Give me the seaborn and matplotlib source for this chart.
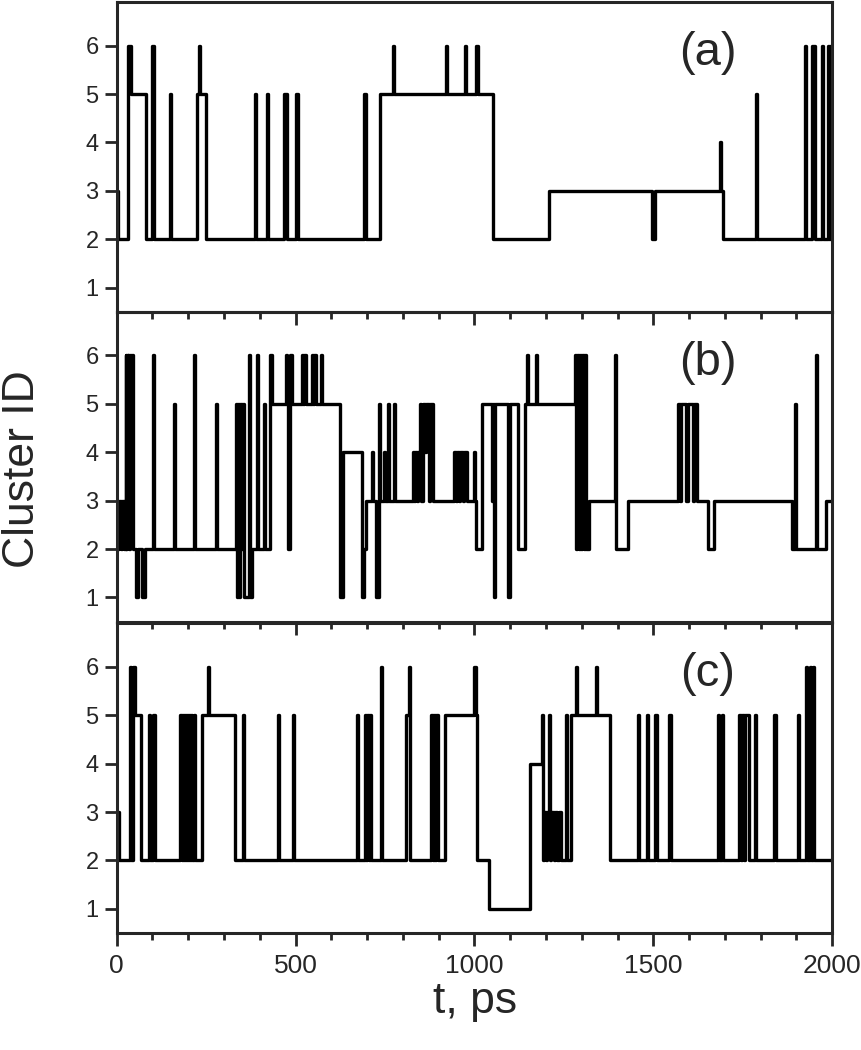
import numpy as np
import pandas as pd
import matplotlib
matplotlib.use('Agg')
import matplotlib.pyplot as plt
from matplotlib.ticker import MultipleLocator
import seaborn as sns

# change points of the cluster trajectory (time in ps -> cluster id from that time on)
t_a = [0, 5, 31, 39, 82, 100, 104, 148, 152, 225, 230, 234, 251,
       386, 390, 419, 422, 468, 475, 502, 506, 692, 696, 737,
       773, 776, 920, 923, 973, 977, 1005, 1009, 1053, 1207,
       1495, 1505, 1687, 1690, 1696, 1786, 1789,
       1925, 1928, 1942, 1952, 1971, 1974, 1989, 1992, 1995, 1998, 2000]
id_a = [3, 2, 6, 5, 2, 6, 2, 5, 2, 5, 6, 5, 2,
        5, 2, 5, 2, 5, 2, 5, 2, 5, 2, 5,
        6, 5, 6, 5, 6, 5, 6, 5, 2, 3,
        2, 3, 4, 3, 2, 5, 2,
        6, 2, 6, 2, 6, 2, 6, 2, 6, 2, 2]

t_b = [0, 2, 5, 8, 12, 14, 20, 25, 27, 29, 31, 33, 35, 37, 40, 42, 45,
       53, 60, 70, 78, 101, 104, 160, 163, 215, 218, 277, 280,
       334, 337, 340, 343, 346, 349, 352, 355, 370, 373, 378, 391, 394,
       412, 415, 430, 434, 472, 476, 479, 485, 489,
       517, 522, 525, 530, 545, 549, 552, 557, 570, 574,
       625, 632, 687, 691, 697, 714, 717, 725, 732, 735, 747, 750,
       758, 761, 775, 778, 828, 832, 835, 840, 843, 847, 852, 855, 862,
       866, 872, 876, 884, 943, 948, 951, 958, 961, 968, 971, 978,
       998, 1001, 1004, 1020, 1048, 1051, 1054, 1058, 1095, 1099,
       1122, 1140, 1147, 1150, 1171, 1174,
       1280, 1284, 1287, 1291, 1294, 1298, 1301, 1305, 1308, 1312, 1320,
       1393, 1397, 1428, 1570, 1575, 1578, 1592, 1598, 1610, 1613, 1623,
       1654, 1670, 1887, 1896, 1899, 1954, 1957, 1982, 2000]
id_b = [2, 3, 2, 3, 2, 3, 2, 6, 2, 6, 3, 6, 2, 6, 4, 6, 2,
        1, 2, 1, 2, 6, 2, 5, 2, 6, 2, 5, 2,
        5, 1, 5, 1, 5, 2, 5, 1, 6, 1, 2, 6, 2,
        5, 2, 6, 5, 6, 5, 2, 6, 5,
        6, 5, 6, 5, 6, 5, 6, 5, 6, 5,
        1, 4, 1, 2, 3, 4, 3, 1, 5, 3, 4, 3,
        5, 3, 5, 3, 4, 3, 4, 3, 4, 5, 3, 5, 4,
        5, 3, 5, 3, 4, 3, 4, 3, 4, 3, 4, 3,
        4, 3, 2, 5, 3, 5, 1, 5, 1, 5,
        2, 5, 6, 5, 6, 5,
        6, 2, 6, 2, 6, 2, 6, 2, 6, 2, 3,
        6, 2, 3, 5, 3, 5, 3, 5, 3, 5, 3,
        2, 3, 2, 5, 2, 6, 2, 3, 3]

t_c = [0, 8, 36, 39, 46, 50, 69, 91, 94, 102, 106,
       178, 182, 185, 188, 191, 194, 197, 200, 203, 206, 209, 212, 216, 220,
       239, 255, 258, 332, 354, 357, 450, 453, 492, 495,
       672, 675, 693, 697, 700, 704, 707, 712, 740, 743,
       808, 818, 821, 879, 883, 886, 890, 893, 897,
       917, 1000, 1003, 1008, 1040, 1155, 1188, 1191, 1195, 1200, 1203,
       1209, 1212, 1215, 1222, 1225, 1232, 1235, 1241, 1256, 1259, 1270,
       1284, 1287, 1339, 1342, 1380,
       1457, 1460, 1481, 1484, 1506, 1509, 1545, 1548, 1680, 1684, 1691, 1695,
       1740, 1744, 1747, 1752, 1755, 1766, 1785, 1788, 1836, 1842,
       1903, 1906, 1927, 1930, 1937, 1941, 1945, 1950, 2000]
id_c = [3, 2, 6, 2, 6, 5, 2, 5, 2, 5, 2,
        5, 2, 5, 2, 5, 2, 5, 2, 5, 2, 5, 2, 5, 2,
        5, 6, 5, 2, 5, 2, 5, 2, 5, 2,
        5, 2, 5, 2, 5, 2, 5, 2, 6, 2,
        5, 6, 2, 5, 2, 5, 2, 5, 2,
        5, 6, 5, 2, 1, 4, 5, 2, 3, 2, 3,
        5, 2, 3, 2, 3, 2, 3, 2, 5, 2, 5,
        6, 5, 6, 5, 2,
        5, 2, 5, 2, 5, 2, 5, 2, 5, 2, 5, 2,
        5, 2, 5, 2, 5, 2, 5, 2, 5, 2,
        5, 2, 6, 2, 6, 2, 6, 2, 2]

panel_labels = ['(a)', '(b)', '(c)']

sns.set_style('ticks')
plt.rcParams['font.family'] = ['Liberation Sans', 'DejaVu Sans']

fig = plt.figure(figsize=(8.62, 10.5), dpi=100)
bottoms = [0.703, 0.408, 0.1114]
h = 0.295
axes = [fig.add_axes([0.1353, b, 0.8302, h]) for b in bottoms]

series = [(t_a, id_a), (t_b, id_b), (t_c, id_c)]
for i, (ax, (t, cid)) in enumerate(zip(axes, series)):
    df = pd.DataFrame({'t': t, 'cluster': cid})
    sns.lineplot(data=df, x='t', y='cluster', ax=ax, color='black',
                 linewidth=2.4, drawstyle='steps-post', estimator=None,
                 sort=False)
    ax.set_facecolor('none')
    ax.set_xlim(0, 2000)
    ax.set_ylim(0.5, 6.9)
    ax.set_yticks([1, 2, 3, 4, 5, 6])
    ax.xaxis.set_major_locator(MultipleLocator(500))
    ax.xaxis.set_minor_locator(MultipleLocator(100))
    ax.tick_params(axis='both', which='major', direction='out', length=9,
                   width=2, top=False, right=False)
    ax.tick_params(axis='x', which='minor', direction='out', length=5,
                   width=2, top=False)
    ax.tick_params(axis='y', labelsize=17, pad=4)
    ax.tick_params(axis='x', labelsize=19, pad=6)
    for s in ax.spines.values():
        s.set_visible(True)
        s.set_linewidth(2.2)
    ax.set_xlabel('')
    ax.set_ylabel('')
    if i < 2:
        ax.tick_params(axis='x', labelbottom=False)
    ax.text(0.826, 0.835, panel_labels[i], transform=ax.transAxes,
            fontsize=34, ha='center', va='center')

fig.text(0.026, 0.553, 'Cluster ID', rotation=90, fontsize=32,
         ha='center', va='center')
fig.text(0.551, 0.046, 't, ps', fontsize=32, ha='center', va='center')

fig.savefig('out.png', dpi=100, facecolor='white')
